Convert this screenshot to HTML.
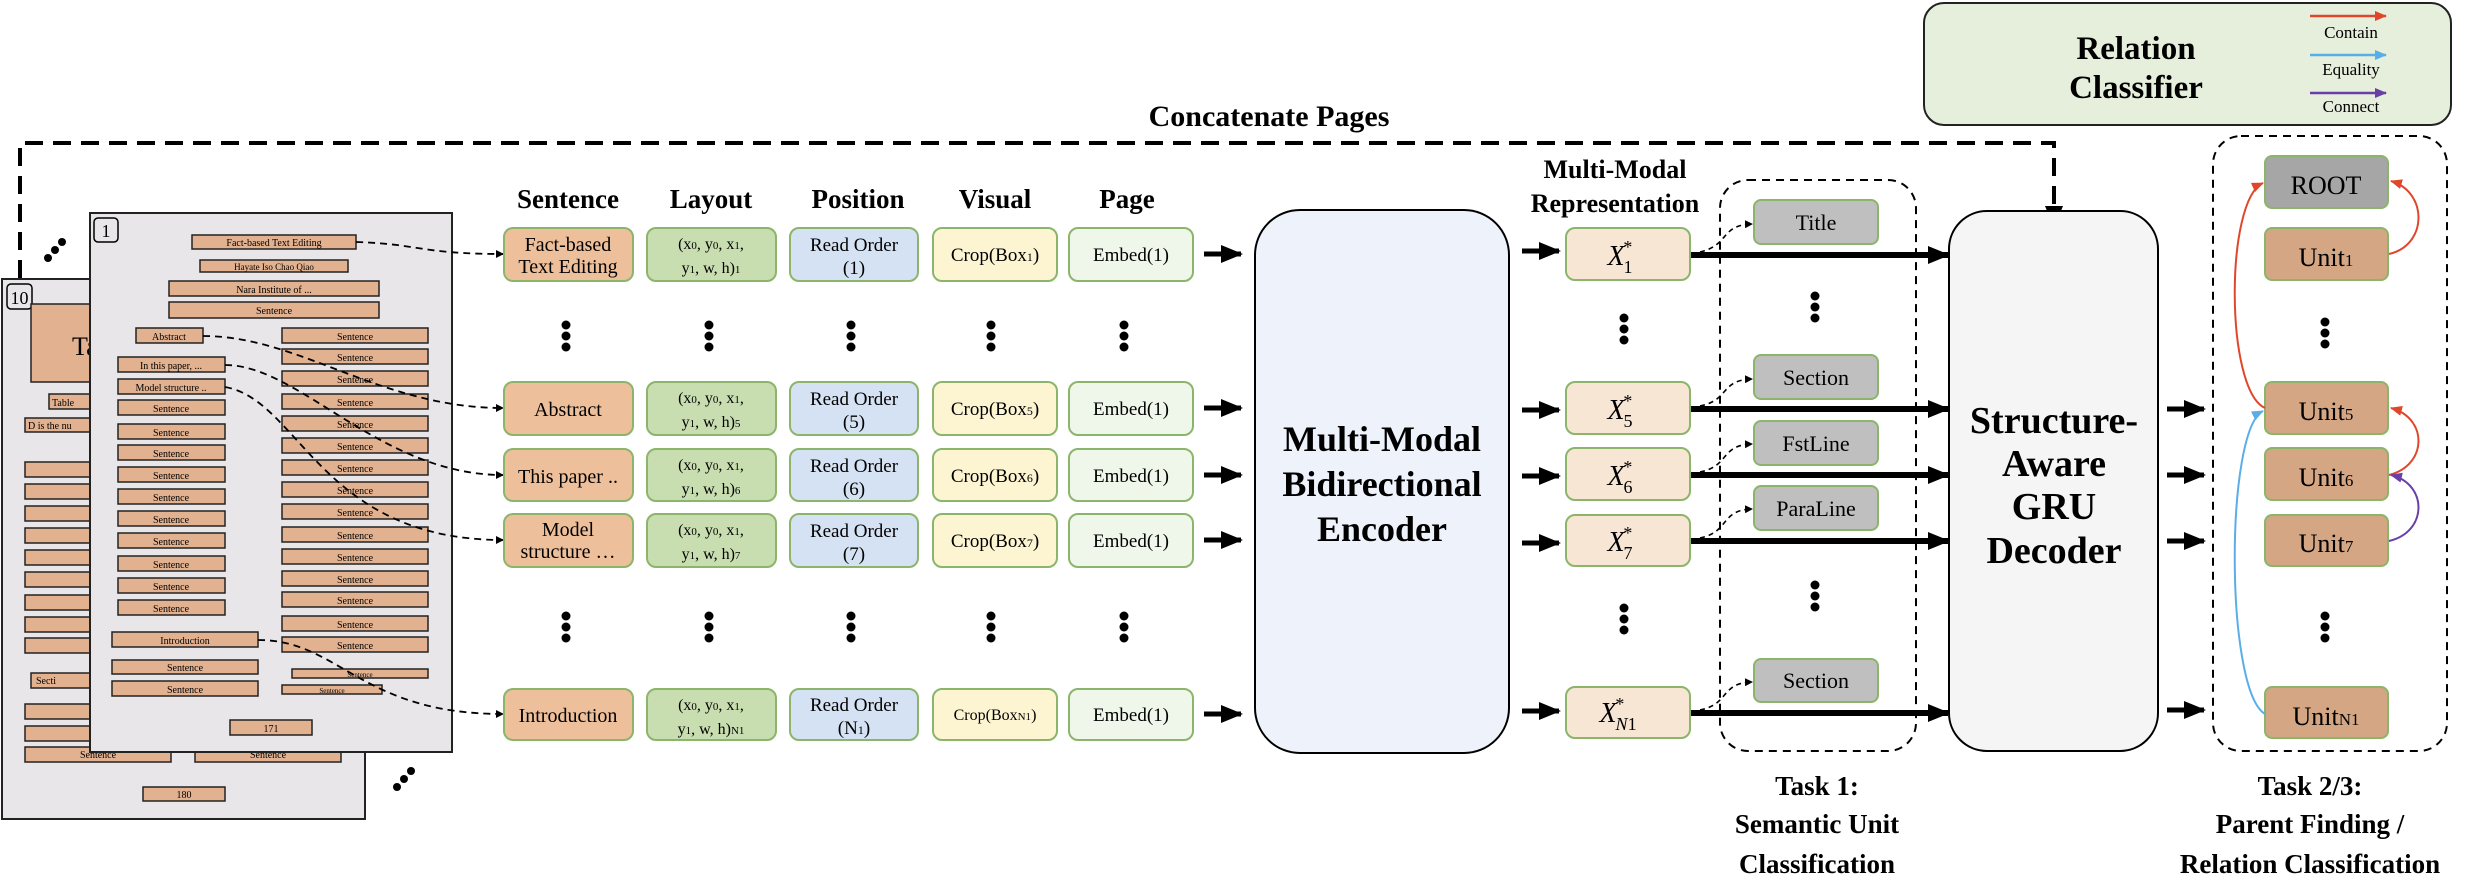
<!DOCTYPE html>
<html><head><meta charset="utf-8"><style>
html,body{margin:0;padding:0;background:#fff;}
svg{display:block;}
text{font-family:"Liberation Serif",serif;}
.b{font-weight:bold;}
</style></head><body>
<svg width="2470" height="882" viewBox="0 0 2470 882" xmlns="http://www.w3.org/2000/svg">
<defs>
<marker id="ah" markerWidth="8" markerHeight="8" refX="7" refY="4" orient="auto" markerUnits="userSpaceOnUse"><path d="M0,0 L8,4 L0,8 z" fill="#000"/></marker>
<marker id="ahb" markerWidth="22" markerHeight="18" refX="20" refY="9" orient="auto" markerUnits="userSpaceOnUse"><path d="M0,0 L22,9 L0,18 z" fill="#000"/></marker>
<marker id="ahr" markerWidth="12" markerHeight="10" refX="11" refY="5" orient="auto" markerUnits="userSpaceOnUse"><path d="M0,0 L12,5 L0,10 z" fill="#e0472a"/></marker>
<marker id="ahl" markerWidth="12" markerHeight="10" refX="11" refY="5" orient="auto" markerUnits="userSpaceOnUse"><path d="M0,0 L12,5 L0,10 z" fill="#5aaee8"/></marker>
<marker id="ahp" markerWidth="12" markerHeight="10" refX="11" refY="5" orient="auto" markerUnits="userSpaceOnUse"><path d="M0,0 L12,5 L0,10 z" fill="#6a3fa8"/></marker>
<g id="d1" fill="#000"><circle cx="0" cy="-11" r="4.5"/><circle cx="0" cy="0" r="4.5"/><circle cx="0" cy="11" r="4.5"/></g>
</defs>

<path d="M20,278 L20,143 L2054,143 L2054,226" fill="none" stroke="#000" stroke-width="4" stroke-dasharray="18,10" marker-end="url(#ahb)"/>
<text x="1269" y="126" font-size="30" class="b" text-anchor="middle">Concatenate Pages</text>

<!-- page 10 -->
<rect x="2" y="279" width="363" height="540" fill="#e8e6e8" stroke="#222" stroke-width="2"/>
<rect x="7" y="284" width="25" height="25" rx="4" fill="none" stroke="#000" stroke-width="1.5"/>
<text x="19.5" y="304" font-size="18" text-anchor="middle">10</text>
<g fill="#e2b18f" stroke="#222" stroke-width="1.5">
<rect x="31" y="304" width="70" height="78"/>
<rect x="49" y="394" width="50" height="15"/>
<rect x="25" y="418" width="70" height="14"/>
<rect x="25" y="462" width="70" height="15"/><rect x="25" y="484" width="70" height="15"/><rect x="25" y="506" width="70" height="15"/><rect x="25" y="528" width="70" height="15"/><rect x="25" y="550" width="70" height="15"/><rect x="25" y="572" width="70" height="15"/><rect x="25" y="595" width="70" height="15"/><rect x="25" y="617" width="70" height="15"/><rect x="25" y="638" width="70" height="15"/>
<rect x="31" y="673" width="70" height="15"/>
<rect x="25" y="704" width="70" height="15"/><rect x="25" y="726" width="70" height="15"/>
<rect x="25" y="747" width="146" height="15"/><rect x="195" y="747" width="146" height="15"/>
<rect x="143" y="787" width="82" height="14"/>
</g>
<g font-size="10" text-anchor="middle">
<text x="72" y="355" font-size="26" text-anchor="start">Ta</text>
<text x="52" y="406" text-anchor="start">Table</text>
<text x="28" y="429" text-anchor="start">D is the nu</text>
<text x="98" y="758">Sentence</text><text x="268" y="758">Sentence</text>
<text x="184" y="798">180</text>
<text x="36" y="684" text-anchor="start">Secti</text>
</g>
<circle cx="48" cy="258" r="4"/><circle cx="55" cy="250" r="4"/><circle cx="62" cy="242" r="4"/>
<circle cx="397" cy="787" r="4"/><circle cx="404" cy="779" r="4"/><circle cx="411" cy="771" r="4"/>

<!-- page 1 -->
<rect x="90" y="213" width="362" height="539" fill="#e8e6e8" stroke="#222" stroke-width="2"/>
<rect x="94" y="218" width="24" height="24" rx="4" fill="none" stroke="#000" stroke-width="1.5"/>
<text x="106" y="237" font-size="18" text-anchor="middle">1</text>
<g fill="#e2b18f" stroke="#222" stroke-width="1.5">
<rect x="192" y="235" width="164" height="14"/>
<rect x="200" y="260" width="148" height="12"/>
<rect x="169" y="281" width="210" height="15"/>
<rect x="169" y="302" width="210" height="16"/>
<rect x="136" y="328" width="67" height="15"/>
<rect x="118" y="357" width="107" height="15"/><rect x="118" y="379" width="107" height="15"/>
<rect x="118" y="400" width="107" height="15"/><rect x="118" y="424" width="107" height="15"/><rect x="118" y="445" width="107" height="15"/><rect x="118" y="467" width="107" height="15"/><rect x="118" y="489" width="107" height="15"/><rect x="118" y="511" width="107" height="15"/><rect x="118" y="533" width="107" height="15"/><rect x="118" y="556" width="107" height="15"/><rect x="118" y="578" width="107" height="15"/><rect x="118" y="600" width="107" height="15"/>
<rect x="282" y="328" width="146" height="15"/><rect x="282" y="349" width="146" height="15"/><rect x="282" y="371" width="146" height="15"/><rect x="282" y="394" width="146" height="15"/><rect x="282" y="416" width="146" height="15"/><rect x="282" y="438" width="146" height="15"/><rect x="282" y="460" width="146" height="15"/><rect x="282" y="482" width="146" height="15"/><rect x="282" y="504" width="146" height="15"/><rect x="282" y="527" width="146" height="15"/><rect x="282" y="549" width="146" height="15"/><rect x="282" y="571" width="146" height="15"/><rect x="282" y="592" width="146" height="15"/><rect x="282" y="616" width="146" height="15"/><rect x="282" y="637" width="146" height="15"/>
<rect x="292" y="669" width="136" height="9"/><rect x="282" y="685" width="100" height="9"/>
<rect x="112" y="632" width="146" height="15"/><rect x="112" y="660" width="146" height="14"/><rect x="112" y="681" width="146" height="15"/>
<rect x="230" y="720" width="82" height="15"/>
</g>
<g font-size="10" text-anchor="middle">
<text x="274" y="246">Fact-based Text Editing</text>
<text x="274" y="270" font-size="9">Hayate Iso Chao Qiao</text>
<text x="274" y="293">Nara Institute of ...</text>
<text x="274" y="314">Sentence</text>
<text x="169" y="340">Abstract</text>
<text x="171" y="369">In this paper, ...</text>
<text x="171" y="391">Model structure ..</text>
<text x="171" y="412">Sentence</text><text x="171" y="436">Sentence</text><text x="171" y="457">Sentence</text><text x="171" y="479">Sentence</text><text x="171" y="501">Sentence</text><text x="171" y="523">Sentence</text><text x="171" y="545">Sentence</text><text x="171" y="568">Sentence</text><text x="171" y="590">Sentence</text><text x="171" y="612">Sentence</text>
<text x="355" y="340">Sentence</text><text x="355" y="361">Sentence</text><text x="355" y="383">Sentence</text><text x="355" y="406">Sentence</text><text x="355" y="428">Sentence</text><text x="355" y="450">Sentence</text><text x="355" y="472">Sentence</text><text x="355" y="494">Sentence</text><text x="355" y="516">Sentence</text><text x="355" y="539">Sentence</text><text x="355" y="561">Sentence</text><text x="355" y="583">Sentence</text><text x="355" y="604">Sentence</text><text x="355" y="628">Sentence</text><text x="355" y="649">Sentence</text>
<text x="360" y="677" font-size="7">Sentence</text><text x="332" y="693" font-size="7">Sentence</text>
<text x="185" y="644">Introduction</text><text x="185" y="671">Sentence</text><text x="185" y="693">Sentence</text>
<text x="271" y="732">171</text>
</g>
<g fill="none" stroke="#000" stroke-width="1.8" stroke-dasharray="7,5" marker-end="url(#ah)">
<path d="M356,242 C420,244 420,254 503,254"/>
<path d="M203,336 C300,336 380,408 503,408"/>
<path d="M225,365 C300,365 380,475 503,475"/>
<path d="M225,387 C300,400 320,540 503,540"/>
<path d="M258,640 C340,640 360,714 503,714"/>
</g>

<g font-size="27" class="b" text-anchor="middle">
<text x="568" y="208">Sentence</text><text x="711" y="208">Layout</text><text x="858" y="208">Position</text><text x="995" y="208">Visual</text><text x="1127" y="208">Page</text>
</g>

<g stroke="#8bb56a" stroke-width="2">
<g fill="#eebf9b"><rect x="504" y="228" width="129" height="53" rx="9"/><rect x="504" y="382" width="129" height="53" rx="9"/><rect x="504" y="449" width="129" height="52" rx="9"/><rect x="504" y="514" width="129" height="53" rx="9"/><rect x="504" y="689" width="129" height="51" rx="9"/></g>
<g fill="#c8ddb0"><rect x="647" y="228" width="129" height="53" rx="9"/><rect x="647" y="382" width="129" height="53" rx="9"/><rect x="647" y="449" width="129" height="52" rx="9"/><rect x="647" y="514" width="129" height="53" rx="9"/><rect x="647" y="689" width="129" height="51" rx="9"/></g>
<g fill="#d5e2f3"><rect x="790" y="228" width="128" height="53" rx="9"/><rect x="790" y="382" width="128" height="53" rx="9"/><rect x="790" y="449" width="128" height="52" rx="9"/><rect x="790" y="514" width="128" height="53" rx="9"/><rect x="790" y="689" width="128" height="51" rx="9"/></g>
<g fill="#fdf5d2"><rect x="933" y="228" width="124" height="53" rx="9"/><rect x="933" y="382" width="124" height="53" rx="9"/><rect x="933" y="449" width="124" height="52" rx="9"/><rect x="933" y="514" width="124" height="53" rx="9"/><rect x="933" y="689" width="124" height="51" rx="9"/></g>
<g fill="#eff6ea"><rect x="1069" y="228" width="124" height="53" rx="9"/><rect x="1069" y="382" width="124" height="53" rx="9"/><rect x="1069" y="449" width="124" height="52" rx="9"/><rect x="1069" y="514" width="124" height="53" rx="9"/><rect x="1069" y="689" width="124" height="51" rx="9"/></g>
</g>
<g font-size="20" text-anchor="middle">
<text x="568" y="251">Fact-based</text><text x="568" y="273">Text Editing</text>
<text x="568" y="416">Abstract</text>
<text x="568" y="483">This paper ..</text>
<text x="568" y="536">Model</text><text x="568" y="558">structure …</text>
<text x="568" y="722">Introduction</text>
<g font-size="16">
<text x="711" y="249">(x<tspan font-size="11">0</tspan>, y<tspan font-size="11">0</tspan>, x<tspan font-size="11">1</tspan>,</text><text x="711" y="273">y<tspan font-size="11">1</tspan>, w, h)<tspan font-size="11">1</tspan></text>
<text x="711" y="403">(x<tspan font-size="11">0</tspan>, y<tspan font-size="11">0</tspan>, x<tspan font-size="11">1</tspan>,</text><text x="711" y="427">y<tspan font-size="11">1</tspan>, w, h)<tspan font-size="11">5</tspan></text>
<text x="711" y="470">(x<tspan font-size="11">0</tspan>, y<tspan font-size="11">0</tspan>, x<tspan font-size="11">1</tspan>,</text><text x="711" y="494">y<tspan font-size="11">1</tspan>, w, h)<tspan font-size="11">6</tspan></text>
<text x="711" y="535">(x<tspan font-size="11">0</tspan>, y<tspan font-size="11">0</tspan>, x<tspan font-size="11">1</tspan>,</text><text x="711" y="559">y<tspan font-size="11">1</tspan>, w, h)<tspan font-size="11">7</tspan></text>
<text x="711" y="710">(x<tspan font-size="11">0</tspan>, y<tspan font-size="11">0</tspan>, x<tspan font-size="11">1</tspan>,</text><text x="711" y="734">y<tspan font-size="11">1</tspan>, w, h)<tspan font-size="11">N1</tspan></text>
</g>
<g font-size="19">
<text x="854" y="251">Read Order</text><text x="854" y="274">(1)</text>
<text x="854" y="405">Read Order</text><text x="854" y="428">(5)</text>
<text x="854" y="472">Read Order</text><text x="854" y="495">(6)</text>
<text x="854" y="537">Read Order</text><text x="854" y="560">(7)</text>
<text x="854" y="711">Read Order</text><text x="854" y="734">(N<tspan font-size="12">1</tspan>)</text>
<text x="995" y="261">Crop(Box<tspan font-size="12">1</tspan>)</text>
<text x="995" y="415">Crop(Box<tspan font-size="12">5</tspan>)</text>
<text x="995" y="482">Crop(Box<tspan font-size="12">6</tspan>)</text>
<text x="995" y="547">Crop(Box<tspan font-size="12">7</tspan>)</text>
<text x="995" y="720" font-size="16">Crop(Box<tspan font-size="11">N1</tspan>)</text>
<text x="1131" y="261">Embed(1)</text><text x="1131" y="415">Embed(1)</text><text x="1131" y="482">Embed(1)</text><text x="1131" y="547">Embed(1)</text><text x="1131" y="721">Embed(1)</text>
</g>
</g>
<g>
<use href="#d1" x="566" y="336"/><use href="#d1" x="709" y="336"/><use href="#d1" x="851" y="336"/><use href="#d1" x="991" y="336"/><use href="#d1" x="1124" y="336"/>
<use href="#d1" x="566" y="627"/><use href="#d1" x="709" y="627"/><use href="#d1" x="851" y="627"/><use href="#d1" x="991" y="627"/><use href="#d1" x="1124" y="627"/>
<use href="#d1" x="1624" y="329"/><use href="#d1" x="1624" y="619"/>
<use href="#d1" x="1815" y="307"/><use href="#d1" x="1815" y="596"/>
<use href="#d1" x="2325" y="333"/><use href="#d1" x="2325" y="627"/>
</g>
<g stroke="#000" stroke-width="5" marker-end="url(#ahb)">
<line x1="1204" y1="254" x2="1241" y2="254"/><line x1="1204" y1="408" x2="1241" y2="408"/><line x1="1204" y1="475" x2="1241" y2="475"/><line x1="1204" y1="540" x2="1241" y2="540"/><line x1="1204" y1="714" x2="1241" y2="714"/>
<line x1="1522" y1="251" x2="1559" y2="251"/><line x1="1522" y1="410" x2="1559" y2="410"/><line x1="1522" y1="476" x2="1559" y2="476"/><line x1="1522" y1="543" x2="1559" y2="543"/><line x1="1522" y1="711" x2="1559" y2="711"/>
<line x1="2167" y1="409" x2="2204" y2="409"/><line x1="2167" y1="475" x2="2204" y2="475"/><line x1="2167" y1="541" x2="2204" y2="541"/><line x1="2167" y1="710" x2="2204" y2="710"/>
</g>
<rect x="1255" y="210" width="254" height="543" rx="45" fill="#edf2fb" stroke="#000" stroke-width="2"/>
<g font-size="36" class="b" text-anchor="middle">
<text x="1382" y="451">Multi-Modal</text><text x="1382" y="496">Bidirectional</text><text x="1382" y="541">Encoder</text>
</g>
<g font-size="26" class="b" text-anchor="middle"><text x="1615" y="178">Multi-Modal</text><text x="1615" y="212">Representation</text></g>
<rect x="1720" y="180" width="196" height="571" rx="28" fill="none" stroke="#000" stroke-width="2" stroke-dasharray="8,6"/>
<g stroke="#000" stroke-width="6" marker-end="url(#ahb)">
<line x1="1690" y1="255" x2="1948" y2="255"/><line x1="1690" y1="409" x2="1948" y2="409"/><line x1="1690" y1="475" x2="1948" y2="475"/><line x1="1690" y1="541" x2="1948" y2="541"/><line x1="1690" y1="713" x2="1948" y2="713"/>
</g>
<g fill="#f8e6d5" stroke="#8bb56a" stroke-width="2">
<rect x="1566" y="228" width="124" height="52" rx="9"/><rect x="1566" y="382" width="124" height="52" rx="9"/><rect x="1566" y="448" width="124" height="52" rx="9"/><rect x="1566" y="515" width="124" height="51" rx="9"/><rect x="1566" y="687" width="124" height="51" rx="9"/>
</g>
<g font-size="28" font-style="italic" text-anchor="middle">
<text x="1620" y="265">X<tspan font-size="18" dy="-12" dx="-2">*</tspan><tspan font-size="18" dy="20" dx="-8" font-style="normal">1</tspan></text>
<text x="1620" y="419">X<tspan font-size="18" dy="-12" dx="-2">*</tspan><tspan font-size="18" dy="20" dx="-8" font-style="normal">5</tspan></text>
<text x="1620" y="485">X<tspan font-size="18" dy="-12" dx="-2">*</tspan><tspan font-size="18" dy="20" dx="-8" font-style="normal">6</tspan></text>
<text x="1620" y="551">X<tspan font-size="18" dy="-12" dx="-2">*</tspan><tspan font-size="18" dy="20" dx="-8" font-style="normal">7</tspan></text>
<text x="1618" y="722">X<tspan font-size="18" dy="-12" dx="-2">*</tspan><tspan font-size="18" dy="20" dx="-8">N</tspan><tspan font-size="18" font-style="normal">1</tspan></text>
</g>
<g fill="none" stroke="#000" stroke-width="1.6" stroke-dasharray="5,4" marker-end="url(#ah)">
<path d="M1700,252 C1730,245 1720,225 1752,224"/>
<path d="M1700,406 C1730,400 1720,380 1752,379"/>
<path d="M1700,472 C1730,466 1720,445 1752,444"/>
<path d="M1700,538 C1730,532 1720,510 1752,509"/>
<path d="M1700,710 C1730,704 1720,683 1752,682"/>
</g>
<g fill="#bfbfbf" stroke="#8bb56a" stroke-width="2">
<rect x="1754" y="200" width="124" height="44" rx="7"/><rect x="1754" y="355" width="124" height="44" rx="7"/><rect x="1754" y="421" width="124" height="44" rx="7"/><rect x="1754" y="486" width="124" height="44" rx="7"/><rect x="1754" y="659" width="124" height="43" rx="7"/>
</g>
<g font-size="22" text-anchor="middle">
<text x="1816" y="230">Title</text><text x="1816" y="385">Section</text><text x="1816" y="451">FstLine</text><text x="1816" y="516">ParaLine</text><text x="1816" y="688">Section</text>
</g>
<g font-size="27" class="b" text-anchor="middle">
<text x="1817" y="795">Task 1:</text><text x="1817" y="833">Semantic Unit</text><text x="1817" y="873">Classification</text>
<text x="2310" y="795">Task 2/3:</text><text x="2310" y="833">Parent Finding /</text><text x="2310" y="873">Relation Classification</text>
</g>
<rect x="1949" y="211" width="209" height="540" rx="38" fill="#f5f5f5" stroke="#000" stroke-width="2"/>
<g font-size="38" class="b" text-anchor="middle">
<text x="2054" y="433">Structure-</text><text x="2054" y="476">Aware</text><text x="2054" y="519">GRU</text><text x="2054" y="563">Decoder</text>
</g>
<rect x="1924" y="3" width="527" height="122" rx="20" fill="#e6efdc" stroke="#222" stroke-width="2"/>
<g font-size="33" class="b" text-anchor="middle"><text x="2136" y="59">Relation</text><text x="2136" y="98">Classifier</text></g>
<g stroke-width="2.5">
<line x1="2310" y1="16" x2="2386" y2="16" stroke="#e0472a" marker-end="url(#ahr)"/>
<line x1="2310" y1="55" x2="2386" y2="55" stroke="#5aaee8" marker-end="url(#ahl)"/>
<line x1="2310" y1="93" x2="2386" y2="93" stroke="#6a3fa8" marker-end="url(#ahp)"/>
</g>
<g font-size="17" text-anchor="middle"><text x="2351" y="38">Contain</text><text x="2351" y="75">Equality</text><text x="2351" y="112">Connect</text></g>
<rect x="2213" y="136" width="234" height="615" rx="28" fill="none" stroke="#000" stroke-width="2" stroke-dasharray="8,6"/>
<rect x="2265" y="156" width="123" height="52" rx="7" fill="#a6a6a6" stroke="#8bb56a" stroke-width="2"/>
<g fill="#d4a684" stroke="#8bb56a" stroke-width="2">
<rect x="2265" y="228" width="123" height="52" rx="7"/><rect x="2265" y="382" width="123" height="52" rx="7"/><rect x="2265" y="448" width="123" height="52" rx="7"/><rect x="2265" y="515" width="123" height="51" rx="7"/><rect x="2265" y="687" width="123" height="51" rx="7"/>
</g>
<g font-size="26" text-anchor="middle">
<text x="2326" y="194">ROOT</text>
<text x="2326" y="266">Unit<tspan font-size="17">1</tspan></text>
<text x="2326" y="420">Unit<tspan font-size="17">5</tspan></text>
<text x="2326" y="486">Unit<tspan font-size="17">6</tspan></text>
<text x="2326" y="552">Unit<tspan font-size="17">7</tspan></text>
<text x="2326" y="725">Unit<tspan font-size="17">N1</tspan></text>
</g>
<g fill="none" stroke-width="2">
<path d="M2389,254 C2428,245 2428,192 2391,181" stroke="#e0472a" marker-end="url(#ahr)"/>
<path d="M2265,408 C2225,390 2225,200 2263,183" stroke="#e0472a" marker-end="url(#ahr)"/>
<path d="M2389,475 C2428,465 2428,418 2391,408" stroke="#e0472a" marker-end="url(#ahr)"/>
<path d="M2389,541 C2428,532 2428,484 2391,475" stroke="#6a3fa8" marker-end="url(#ahp)"/>
<path d="M2265,714 C2225,690 2225,430 2263,411" stroke="#5aaee8" marker-end="url(#ahl)"/>
</g>
</svg>
</body></html>
